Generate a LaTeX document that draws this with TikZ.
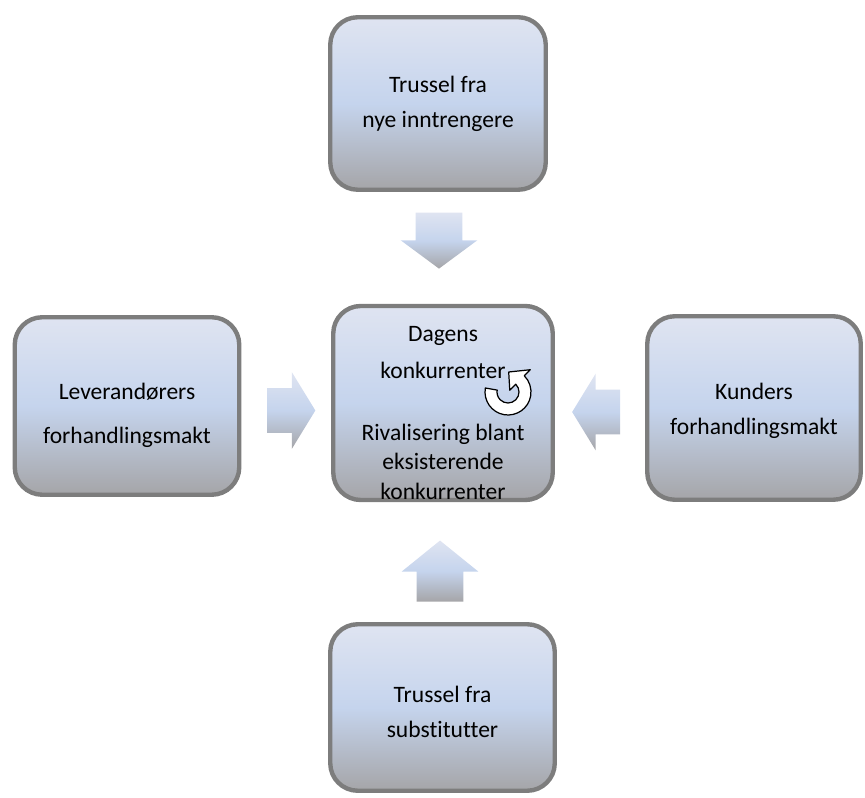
\documentclass[tikz,border=0pt]{standalone}
\usepackage{fontspec}
\setmainfont{Carlito}[Ligatures=NoCommon]
\usetikzlibrary{shapes.arrows,calc}
\definecolor{boxline}{RGB}{125,125,125}
\definecolor{boxtop}{RGB}{223,228,241}
\definecolor{boxmid}{RGB}{197,212,237}
\definecolor{boxbottom}{RGB}{165,165,168}
\begin{document}
\begin{tikzpicture}
	\tikzstyle{box}=[draw=boxline, line width=2.5pt, rounded corners=0.55cm, top color=boxtop, bottom color=boxbottom, middle color=boxmid, align=center, font=\fontsize{13.4}{17}\selectfont, inner sep=0pt]
	\tikzstyle{block}=[single arrow, top color=boxtop, bottom color=boxbottom, middle color=boxmid, minimum width=0pt, outer sep=0pt, inner sep=0pt, single arrow head extend=0.3cm]
	\tikzstyle{turn}=[draw, fill=white, line width=0.7pt, line join=round]
		\useasboundingbox (0, 0) rectangle (17.3, 15.94);

		\node [style=box, minimum width=4.31cm, minimum height=3.45cm] (0) at (8.76, 13.87) {Trussel fra\\[2.9pt]nye inntrengere};
		\node [style=box, minimum width=4.39cm, minimum height=3.79cm] (1) at (8.86, 7.88) {\rule{0pt}{20pt}Dagens\\[4pt]konkurrenter\\[18.3pt]Rivalisering blant\\eksisterende\\konkurrenter};
		\node [style=box, minimum width=4.49cm, minimum height=3.55cm] (2) at (2.54, 7.82) {\rule{0pt}{20pt}Leverandørers\\[8pt]forhandlingsmakt};
		\node [style=box, minimum width=4.27cm, minimum height=3.67cm] (3) at (15.08, 7.78) {\rule{0pt}{13pt}Kunders\\[2.9pt]forhandlingsmakt};
		\node [style=box, minimum width=4.49cm, minimum height=3.33cm] (4) at (8.85, 1.79) {\rule{0pt}{14pt}Trussel fra\\[2.9pt]substitutter};

		\node [style=block, shape border rotate=270, inner xsep=0.46cm, minimum height=1.12cm, single arrow tip angle=107] (5) at (8.78, 11.3) {};
		\node [style=block, shape border rotate=90, inner xsep=0.46cm, minimum height=1.22cm, single arrow tip angle=102] (6) at (8.8, 4.33) {};
		\node [style=block, shape border rotate=0, inner ysep=0.44cm, minimum height=0.96cm, single arrow head extend=0.32cm, single arrow tip angle=117] (7) at (5.69, 7.73) {};
		\node [style=block, shape border rotate=180, inner ysep=0.44cm, minimum height=0.96cm, single arrow head extend=0.32cm, single arrow tip angle=117] (8) at (12.06, 7.7) {};

		\coordinate (9) at (10.16, 8.1);
		\draw [style=turn] ($(9)+(170:0.46)$) arc [start angle=170, end angle=405, radius=0.46] -- ($(9)+(45:0.63)$) -- ($(9)+(88:0.40)$) -- ($(9)+(45:0.05)$) -- ($(9)+(45:0.22)$) arc [start angle=405, end angle=170, radius=0.22] -- cycle;

\end{tikzpicture}
\end{document}
